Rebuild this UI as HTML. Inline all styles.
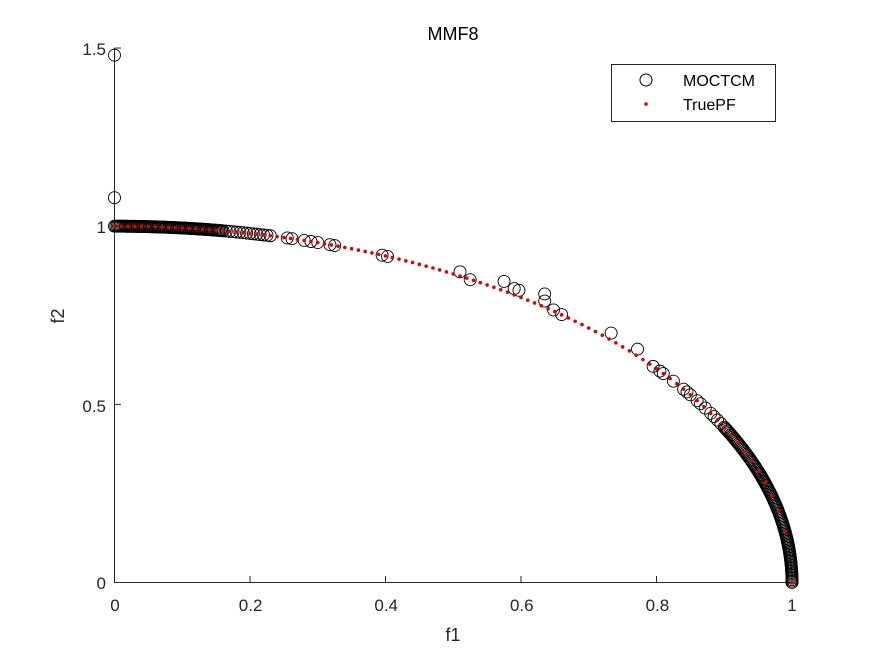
<!DOCTYPE html>
<html><head><meta charset="utf-8"><style>
body{margin:0;background:#fff}
svg{display:block;font-family:"Liberation Sans",Arial,sans-serif}
</style></head><body>
<svg id="s" width="875" height="656" viewBox="0 0 875 656">
<rect width="875" height="656" fill="#fff"/>
<g stroke="#262626" stroke-width="1" fill="none">
<line x1="114.5" y1="48" x2="114.5" y2="583"/>
<line x1="114" y1="582.5" x2="792" y2="582.5"/>
</g>
<g id="ticks" stroke="#262626" stroke-width="1"></g>
<g fill="#262626" font-size="17" text-anchor="middle">
<text x="115" y="611">0</text><text x="250.6" y="611">0.2</text><text x="386.2" y="611">0.4</text>
<text x="521.8" y="611">0.6</text><text x="657.4" y="611">0.8</text><text x="792" y="611">1</text>
</g>
<g fill="#262626" font-size="17" text-anchor="end">
<text x="106" y="589">0</text><text x="106" y="412">0.5</text><text x="106" y="233">1</text><text x="106" y="55">1.5</text>
</g>
<text x="453" y="641" font-size="18" fill="#262626" text-anchor="middle">f1</text>
<text x="64" y="316" font-size="18" fill="#262626" text-anchor="middle" transform="rotate(-90 64 316)">f2</text>
<text x="453" y="40" font-size="18" fill="#000" text-anchor="middle">MMF8</text>
<g id="circ" fill="none" stroke="#000" stroke-width="0.9"></g>
<g id="dots" fill="#e00000"></g>
<rect x="611.5" y="64.5" width="164" height="57" fill="#fff" stroke="#262626"/>
<circle cx="646" cy="80" r="6" fill="none" stroke="#000"/>
<circle cx="646" cy="104" r="1.8" fill="#e00000"/>
<text x="683" y="86" font-size="16" fill="#000">MOCTCM</text>
<text x="683" y="110" font-size="16" fill="#000">TruePF</text>
</svg>
<script>
var X=function(v){return 114.5+v*677.5},Y=function(v){return 582.5-v*356.3};
var ns="http://www.w3.org/2000/svg",t=document.getElementById("ticks"),c=document.getElementById("circ"),d=document.getElementById("dots");
function el(g,n,a){var e=document.createElementNS(ns,n);for(var k in a)e.setAttribute(k,a[k]);g.appendChild(e);}
for(var i=1;i<=5;i++){var x=X(i*0.2);el(t,"line",{x1:x,y1:582.5,x2:x,y2:576});}
[0.5,1,1.5].forEach(function(v){el(t,"line",{x1:114.5,y1:Y(v),x2:121,y2:Y(v)});});
function C(f1,f2){el(c,"circle",{cx:X(f1),cy:Y(f2),r:6});}
function P(f){C(f,Math.sqrt(1-f*f));}
C(0,1.48);C(0,1.08);
for(var f=0;f<=0.16;f+=0.002)P(f);
for(var f=0.16;f<=0.235;f+=0.005)P(f);
[0.255,0.262,0.28,0.29,0.3,0.318,0.325,0.395,0.403].forEach(P);
C(0.51,0.872);C(0.525,0.85);C(0.575,0.845);C(0.59,0.825);C(0.597,0.82);
C(0.635,0.81);C(0.635,0.79);C(0.648,0.765);C(0.66,0.752);
C(0.733,0.70);C(0.772,0.655);
[0.795,0.805,0.81,0.825,0.84,0.845,0.85,0.86,0.865,0.872,0.88,0.885,0.89,0.895,0.9,0.905,0.91].forEach(P);
for(var a=0;a<=0.45;a+=0.004){C(Math.cos(a),Math.sin(a));}
for(var i=0;i<=100;i++){var f1=i/100;el(d,"circle",{cx:X(f1),cy:Y(Math.sqrt(Math.max(0,1-f1*f1))),r:1.8});}
</script>
</body></html>
